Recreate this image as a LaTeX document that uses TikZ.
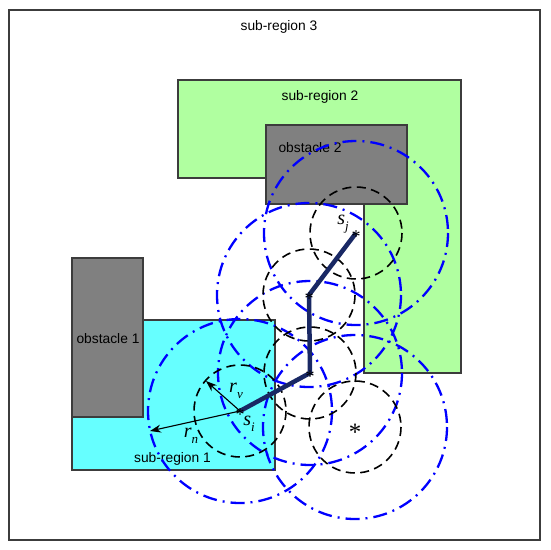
\documentclass[tikz,border=0pt]{standalone}
\usepackage{fontspec}
\setmainfont{Liberation Sans}
\newfontfamily\serifit[ItalicFont={Liberation Serif Italic}]{Liberation Serif}
\usetikzlibrary{arrows.meta}
\definecolor{grn}{RGB}{176,255,160}
\definecolor{cyn}{RGB}{102,255,255}
\definecolor{obs}{RGB}{128,128,128}
\definecolor{edge}{RGB}{60,60,60}
\definecolor{navy}{RGB}{25,40,100}
\newcommand{\symlbl}[2]{{\serifit\itshape\fontsize{20}{20}\selectfont #1\raisebox{-0.28em}{\fontsize{13}{13}\selectfont #2}}}
\tikzset{
  region/.style={draw=edge, line width=1.4pt},
  lbl/.style={font=\fontsize{13.8}{15}\selectfont, inner sep=0pt},
  vcirc/.style={draw=black, line width=1.6pt, dash pattern=on 9pt off 5.5pt},
  ncirc/.style={draw=blue, line width=2.3pt, dash pattern=on 14pt off 6pt on 2pt off 6pt},
  pathln/.style={draw=navy, line width=4.5pt},
  star/.style={inner sep=0pt, font=\serifit\fontsize{18}{18}\selectfont},
  mlbl/.style={inner sep=0pt},
  radarrow/.style={-{Stealth[length=11pt,width=8pt]}, line width=1.1pt},
}
\begin{document}
\begin{tikzpicture}[x=1pt,y=-1pt]
\useasboundingbox (0,0) rectangle (550,550);
\fill[white] (0,0) rectangle (550,550);
% outer frame
\draw[draw=edge, line width=1.4pt] (9,10) rectangle (540,540);
\node[lbl] (t3) at (279,27) {sub-region 3};
% sub-region 2 (green L)
\draw[region, fill=grn] (178,80) -- (461,80) -- (461,373) -- (364,373) -- (364,178) -- (178,178) -- cycle;
\node[lbl] (t2) at (320,97) {sub-region 2};
% obstacle 2
\draw[region, fill=obs] (266,125) rectangle (407,204);
\node[lbl] (o2) at (310,148) {obstacle 2};
% sub-region 1 (cyan)
\draw[region, fill=cyn] (72,320) rectangle (275,470);
\node[lbl] (t1) at (172.5,459) {sub-region 1};
% obstacle 1
\draw[region, fill=obs] (72,258) rectangle (143,417);
\node[lbl] (o1) at (108,339) {obstacle 1};
% node positions
\coordinate (si) at (240,411);
\coordinate (n2) at (310,373);
\coordinate (n3) at (309,295);
\coordinate (sj) at (356,233);
\coordinate (n5) at (355,427);
% blue dash-dot circles
\foreach \c in {si,n2,n3,sj,n5} \draw[ncirc] (\c) circle (92);
% black dashed circles
\foreach \c in {si,n2,n3,sj,n5} \draw[vcirc] (\c) circle (46);
% path
\draw[pathln, line join=miter] (si) -- (n2) -- (n3) -- (sj);
% stars
\node[star] (ssi) at ([yshift=-4pt]si) {*};
\node[star] (sn2) at ([yshift=-4pt]n2) {*};
\node[star] (sn3) at ([yshift=-4pt]n3) {*};
\node[star] (ssj) at ([yshift=-4pt]sj) {*};
\node[inner sep=0pt, font=\serifit\fontsize{25}{25}\selectfont] (sn5) at ([yshift=-5.5pt]n5) {*};
% radius arrows
\coordinate (rv) at (206,381);
\coordinate (rn) at (150,431);
\draw[radarrow] (si) -- (rv);
\draw[radarrow] (si) -- (rn);
\node[mlbl] (lrv) at (236,391) {\symlbl{r}{v}};
\node[mlbl] (lrn) at (191,436) {\symlbl{r}{n}};
\node[mlbl] (lsi) at (249,424) {\symlbl{s}{i}};
\node[mlbl] (lsj) at (343,224) {\symlbl{s}{j}};
\end{tikzpicture}
\end{document}
